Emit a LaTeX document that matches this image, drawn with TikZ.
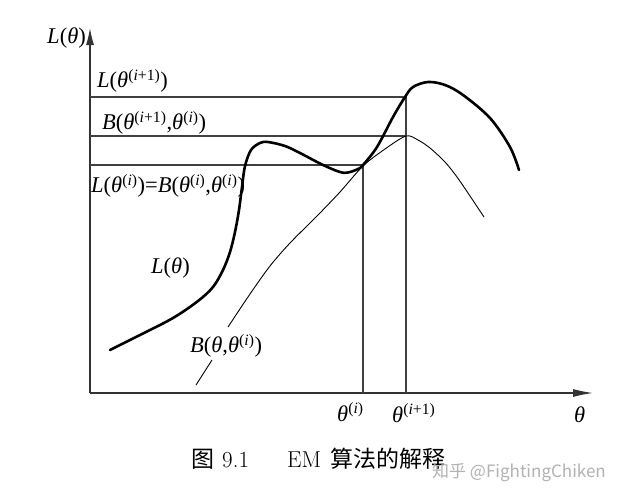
\documentclass[tikz,border=0pt]{standalone}
\usepackage{fontspec}
\newfontfamily\tnr{Liberation Serif}
\newfontfamily\cjk{Noto Sans CJK SC}
\usetikzlibrary{arrows.meta}
\newcommand\myit[1]{\textit{#1}}
\newcommand\mysup[1]{\textsuperscript{#1}}
\newcommand\thi{\myit{θ}\mysup{(\myit{i})}}
\newcommand\thii{\myit{θ}\mysup{(\myit{i}+1)}}
\tikzset{
  lab/.style={inner sep=0pt, font=\tnr\fontsize{22.5}{26}\selectfont},
  capt/.style={inner sep=0pt, anchor=base west, font=\fontsize{23}{26}\selectfont},
  axis/.style={draw=black!80, line width=1.2pt},
  guide/.style={draw=black!75, line width=1.1pt},
  bold/.style={draw=black, line width=2.6pt, line cap=round},
  thin/.style={draw=black, line width=0.9pt},
}
\begin{document}
\begin{tikzpicture}[x=1pt,y=-1pt]
\useasboundingbox (0,0) rectangle (637,499);
\fill[white] (0,0) rectangle (637,499);
% axes
\coordinate (O) at (90,393);
\coordinate (Ytip) at (90,28);
\coordinate (Xtip) at (593,393);
\draw[axis,-{Latex[length=17pt,width=8pt]}] (O) -- (Ytip);
\draw[axis,-{Latex[length=20pt,width=8pt]}] (O) -- (Xtip);
% guide lines
\coordinate (h1a) at (90,97);  \coordinate (h1b) at (406,97);
\coordinate (h2a) at (90,136); \coordinate (h2b) at (406,136);
\coordinate (h3a) at (90,165); \coordinate (h3b) at (363,165);
\coordinate (v1) at (363,393); \coordinate (v2) at (406,393);
\draw[guide] (h1a) -- (h1b) -- (v2);
\draw[guide] (h2a) -- (h2b);
\draw[guide] (h3a) -- (h3b) -- (v1);
% L curve
\draw[bold] plot[smooth, tension=0.55] coordinates {(110,350) (140,335) (173,318) (198,301) (213,287) (223,270) (230,252) (235,232) (239,210) (242,187) (245,166) (251,150) (260,143) (268,142) (285,146) (300,153) (323,165) (340,172) (348,172.5) (358,169) (363,165) (377,147) (393,117) (405,97) (413,87) (428,82) (445,85) (463,95) (490,118) (510,147) (519,170)};
% B curve
\coordinate (b0) at (196,385); \coordinate (b1) at (212,360);
\draw[thin] (b0) -- (b1);
\draw[thin] plot[smooth, tension=0.5] coordinates {(228,327) (250,294) (270,266) (290,243) (317,216) (340,192) (363,166) (385,149) (406,136) (418,140) (430,148) (445,162) (457,177) (470,196) (484,217)};
% labels
\node[lab, anchor=east] (ylab) at (86,38) {\myit{L}(\myit{θ})};
\node[lab, anchor=west] (lab1) at (97,81) {\myit{L}(\thii)};
\node[lab, anchor=west] (lab2) at (102,123) {\myit{B}(\thii,\thi)};
\node[lab, anchor=west] (lab3) at (91,186) {\myit{L}(\thi)=\myit{B}(\thi,\thi)};
\node[lab, anchor=west] (labL) at (151,268) {\myit{L}(\myit{θ})};
\node[lab, anchor=west] (labB) at (190,346) {\myit{B}(\myit{θ},\thi)};
\node[lab, anchor=west] (xi) at (337,412) {\thi};
\node[lab, anchor=west] (xii) at (392,413) {\thii};
\node[lab, anchor=west] (xlab) at (574,415) {\myit{θ}};
% caption
\node[capt] (c1) at (191,467) {\cjk 图};
\node[capt] (c2) at (222,467) {9.1};
\node[capt] (c3) at (287,467) {EM};
\node[capt] (c4) at (330,467) {\cjk 算法的解释};
% watermark
\node[inner sep=0pt, anchor=west, text=black!30, font=\cjk\fontsize{17}{20}\selectfont] (wm) at (432,472) {知乎 @FightingChiken};
\end{tikzpicture}
\end{document}
